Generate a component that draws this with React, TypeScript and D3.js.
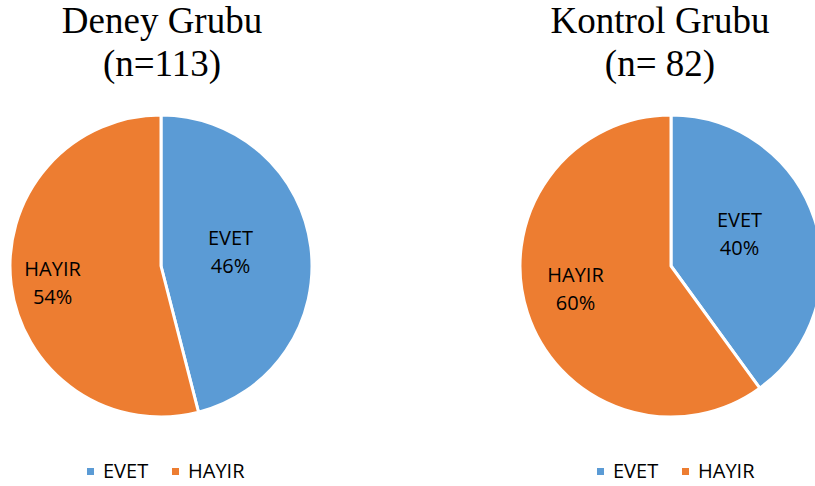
import React from "react";
import * as d3 from "d3";

const categories = ["EVET", "HAYIR"];
const deneyValues = [46, 54];
const kontrolValues = [40, 60];
const titles = [["Deney Grubu", "(n=113)"], ["Kontrol Grubu", "(n= 82)"]];
const colors = ["#5B9BD5", "#ED7D31"];

const W = 815, H = 486;
const R = 151;
const pies = [
  { cx: 161, cy: 266, values: deneyValues, title: titles[0], titleX: 162, labelR: [0.463, 0.736], labelRot: [1.4, -5.5], legendX: 87 },
  { cx: 671, cy: 266, values: kontrolValues, title: titles[1], titleX: 660, labelR: [0.483, 0.662], labelRot: [-2.1, 0.8], legendX: 597 },
];

export default function App() {
  const pieGen = d3.pie<number>().sort(null).value((d) => d);
  const arc = d3.arc<d3.PieArcDatum<number>>().innerRadius(0).outerRadius(R);
  return (
    <svg width={W} height={H} style={{ position: "absolute", left: 0, top: 0, background: "#fff" }}>
      <rect width={W} height={H} fill="#fff" />
      {pies.map((p, pi) => {
        const arcs = pieGen(p.values);
        return (
          <g key={pi}>
            <text x={p.titleX} y={33} textAnchor="middle" fontFamily="Liberation Serif" fontSize={37} fill="#000">{p.title[0]}</text>
            <text x={p.titleX} y={76} textAnchor="middle" fontFamily="Liberation Serif" fontSize={37} fill="#000">{p.title[1]}</text>
            <g transform={`translate(${p.cx},${p.cy})`}>
              {arcs.map((a, i) => (
                <path key={i} d={arc(a) || ""} fill={colors[i]} stroke="#fff" strokeWidth={3} strokeLinejoin="round" />
              ))}
              {arcs.map((a, i) => {
                const mid = (a.startAngle + a.endAngle) / 2 + (p.labelRot[i] * Math.PI) / 180;
                const r = R * p.labelR[i];
                const x = Math.sin(mid) * r;
                const y = -Math.cos(mid) * r;
                return (
                  <g key={"l" + i} fontFamily="Open Sans" fontSize={20} fill="#000" textAnchor="middle">
                    <text x={x} y={y - 14}>{categories[i]}</text>
                    <text x={x} y={y + 14}>{`${p.values[i]}%`}</text>
                  </g>
                );
              })}
            </g>
            <g fontFamily="Open Sans" fontSize={20} fill="#000">
              {categories.map((c, i) => {
                const x = p.legendX + i * 85;
                return (
                  <g key={c}>
                    <rect x={x} y={468} width={7} height={7} fill={colors[i]} />
                    <text x={x + 16} y={478}>{c}</text>
                  </g>
                );
              })}
            </g>
          </g>
        );
      })}
    </svg>
  );
}
